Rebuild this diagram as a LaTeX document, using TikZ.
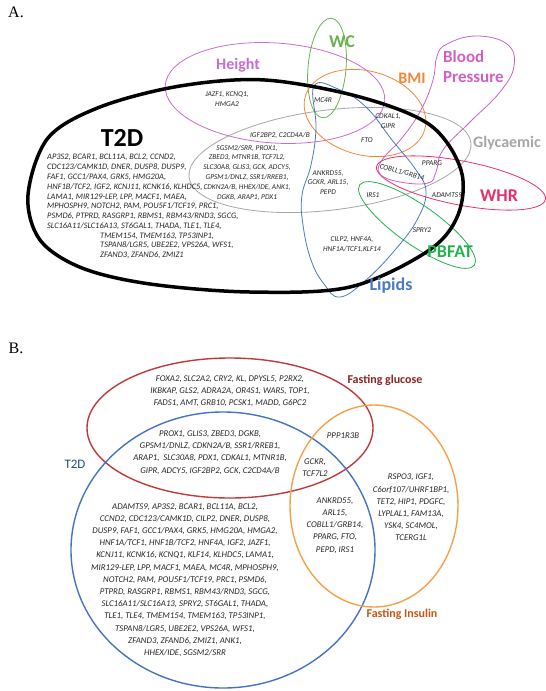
\documentclass[tikz,border=0pt]{standalone}
\usepackage{fontspec}
\setmainfont{Carlito}
\newfontfamily\panelfont{Liberation Serif}
\usepackage{tikz}
\definecolor{genetext}{HTML}{262626}
\definecolor{heightviolet}{HTML}{C76CD2}
\definecolor{wcgreen}{HTML}{6AB04C}
\definecolor{bmiorange}{HTML}{F0883A}
\definecolor{bpmagenta}{HTML}{D160C6}
\definecolor{glycgrey}{HTML}{A6A6A6}
\definecolor{whrred}{HTML}{E5306A}
\definecolor{pbfatgreen}{HTML}{22B14C}
\definecolor{lipidblue}{HTML}{4A7AC6}
\definecolor{fgred}{HTML}{C0393B}
\definecolor{fgdark}{HTML}{8B2323}
\definecolor{tdblue}{HTML}{4472C4}
\definecolor{tdnavy}{HTML}{1F4E79}
\definecolor{fiorange}{HTML}{F5A04A}
\definecolor{fibrown}{HTML}{C0561A}
\tikzset{
  vennline/.style={line width=0.8pt},
  vennthick/.style={line width=1.4pt},
  genes/.style={
    font=\fontsize{7.4}{9.8}\selectfont\itshape,
    text=genetext,
    align=center,
    inner sep=0pt
  },
  genesleft/.style={
    font=\fontsize{8.4}{9.8}\selectfont\itshape,
    text=genetext,
    align=left,
    inner sep=0pt
  },
  genesbig/.style={
    font=\fontsize{8.8}{12.2}\selectfont\itshape,
    text=genetext,
    align=center,
    inner sep=0pt
  },
  trait/.style={font=\bfseries\fontsize{#1}{#1}\selectfont, inner sep=0pt},
  traitB/.style={font=\fontsize{#1}{#1}\selectfont, inner sep=0pt},
  panellabel/.style={font=\panelfont\fontsize{16}{16}\selectfont, inner sep=0pt}
}
\begin{document}
\begin{tikzpicture}[x=1pt, y=-1pt]
  \useasboundingbox (0,0) rectangle (546,691);

  % panel A
  \node[panellabel] (labelA) at (16,12) {A.};

  \draw[vennline, heightviolet, rotate around={-4:(275,93)}] (275,93) ellipse [x radius=110, y radius=50];
  \draw[vennline, glycgrey, rotate around={7:(330,160)}] (330,160) ellipse [x radius=142, y radius=50];
  \draw[vennline, wcgreen, rotate around={-5:(327,68)}] (327,68) ellipse [x radius=19, y radius=50];
  \draw[vennline, bmiorange, rotate around={-15:(365,113)}] (365,113) ellipse [x radius=62, y radius=42];
  \draw[vennline, whrred, rotate around={-11:(461,183)}] (461,183) ellipse [x radius=86, y radius=22];
  \draw[vennline, pbfatgreen, rotate around={-35:(417,225)}] (417,225) ellipse [x radius=70, y radius=20];
  \draw[vennline, bpmagenta] plot[smooth cycle, tension=0.7] coordinates {
    (447,44) (476,36) (507,44) (514,66) (500,92) (470,122) (443,150) (436,172)
    (428,183) (400,182) (380,174) (382,160) (402,138) (421,110) (433,80) (437,56)};
  \draw[vennline, lipidblue] plot[smooth cycle, tension=0.7] coordinates {
    (314,86) (338,89) (366,107) (392,140) (416,170) (426,192) (417,220) (395,250)
    (366,280) (340,297) (324,284) (311,260) (303,225) (302,195) (311,165) (316,128)};
  \draw[line width=3.5pt, black] plot[smooth cycle, tension=0.55] coordinates {
    (28,195) (48,138) (100,107) (180,86) (265,80) (360,97) (430,125) (461,170)
    (458,215) (428,251) (350,287) (250,292) (150,284) (82,268) (40,240)};

  \node[trait=26] (t2dA) at (122,138) {T2D};
  \node[trait=16, text=heightviolet] (height) at (238,65) {Height};
  \node[trait=18, text=wcgreen] (wc) at (342,42) {WC};
  \node[trait=16, text=bmiorange] (bmi) at (412,78) {BMI};
  \node[trait=17, text=bpmagenta, align=left, anchor=west] (bp) at (443,67) {Blood\\[3pt]Pressure};
  \node[trait=16, text=glycgrey] (glyc) at (507,143) {Glycaemic};
  \node[trait=18, text=whrred] (whr) at (499,196) {WHR};
  \node[trait=18, text=pbfatgreen] (pbfat) at (450,252) {PBFAT};
  \node[trait=18, text=lipidblue] (lipids) at (391,286) {Lipids};

  \node[genes] (jazf) at (227,99.5) {JAZF1, KCNQ1,\\HMGA2};
  \node[genes] (igf2bp) at (280,135) {IGF2BP2, C2CD4A/B};
  \node[genes] (glyct2d) at (247,172.5) {SGSM2/SRR, PROX1,\\ZBED3, MTNR1B, TCF7L2,\\SLC30A8, GLIS3, GCK, ADCY5,\\GPSM1/DNLZ, SSR1/RREB1,\\CDKN2A/B, HHEX/IDE, ANK1,\\DGKB, ARAP1, PDX1};
  \node[genesleft, anchor=west] (t2donly) at (47,192) {AP3S2, BCAR1, BCL11A, BCL2, CCND2,\\CDC123/CAMK1D, DNER, DUSP8, DUSP9,\\FAF1, GCC1/PAX4, GRK5, HMG20A,\\HNF1B/TCF2, IGF2, KCNJ11, KCNK16, KLHDC5,\\LAMA1, MIR129-LEP, LPP, MACF1, MAEA,\\MPHOSPH9, NOTCH2, PAM, POU5F1/TCF19, PRC1,\\PSMD6, PTPRD, RASGRP1, RBMS1, RBM43/RND3, SGCG,\\SLC16A11/SLC16A13, ST6GAL1, THADA, TLE1, TLE4,};
  \node[genesleft, anchor=west] (t2donlyb) at (100,245.5) {TMEM154, TMEM163, TP53INP1,\\TSPAN8/LGR5, UBE2E2, VPS26A, WFS1,\\ZFAND3, ZFAND6, ZMIZ1};
  \node[genes] (mc4r) at (323,100) {MC4R};
  \node[genes] (cdkal) at (388,121.5) {CDKAL1,\\GIPR};
  \node[genes] (fto) at (367,140) {FTO};
  \node[genes] (ankrd) at (328,182.5) {ANKRD55,\\GCKR, ARL15,\\PEPD};
  \node[genes] (pparg) at (432,163) {PPARG};
  \node[genes, rotate=-15] (cobll) at (402,172) {COBLL1/GRB14};
  \node[genes] (adamts) at (447,195) {ADAMTS9};
  \node[genes] (irs) at (373,195) {IRS1};
  \node[genes] (spry) at (422,230) {SPRY2};
  \node[genes] (cilp) at (352,244.5) {CILP2, HNF4A,\\HNF1A/TCF1,KLF14};

  % panel B
  \node[panellabel] (labelB) at (16,348) {B.};

  \draw[vennthick, fgred] (230,428) ellipse [x radius=143, y radius=70];
  \draw[vennthick, tdblue] (223,550) ellipse [x radius=152, y radius=138];
  \draw[vennthick, fiorange] (374,506) ellipse [x radius=84, y radius=101];

  \node[trait=12, text=fgdark] (fglabel) at (385,380) {Fasting glucose};
  \node[traitB=13, text=tdnavy] (t2dB) at (75,464) {T2D};
  \node[trait=12, text=fibrown] (filabel) at (402,614) {Fasting Insulin};

  \node[genesbig] (fgonly) at (230,391.5) {FOXA2, SLC2A2, CRY2, KL, DPYSL5, P2RX2,\\IKBKAP, GLS2, ADRA2A, OR4S1, WARS, TOP1,\\FADS1, AMT, GRB10, PCSK1, MADD, G6PC2};
  \node[genesbig] (fgt2d) at (210,452.5) {PROX1, GLIS3, ZBED3, DGKB,\\GPSM1/DNLZ, CDKN2A/B, SSR1/RREB1,\\ARAP1,\ \ SLC30A8, PDX1, CDKAL1, MTNR1B,\\GIPR, ADCY5, IGF2BP2, GCK, C2CD4A/B};
  \node[genesbig] (ppp) at (343,436) {PPP1R3B};
  \node[genesbig] (gckr) at (315,467.5) {GCKR,\\TCF7L2};
  \node[genesbig] (fit2d) at (335,525.5) {ANKRD55,\\ARL15,\\COBLL1/GRB14,\\PPARG, FTO,\\PEPD, IRS1};
  \node[genesbig] (fionly) at (411,507.5) {RSPO3, IGF1,\\C6orf107/UHRF1BP1,\\TET2, HIP1, PDGFC,\\LYPLAL1, FAM13A,\\YSK4, SC4MOL,\\TCERG1L};
  \node[genesbig] (t2donlyB) at (185,580) {ADAMTS9, AP3S2, BCAR1, BCL11A, BCL2,\\CCND2, CDC123/CAMK1D, CILP2, DNER, DUSP8,\\DUSP9, FAF1, GCC1/PAX4, GRK5, HMG20A, HMGA2,\\HNF1A/TCF1, HNF1B/TCF2, HNF4A, IGF2, JAZF1,\\KCNJ11, KCNK16, KCNQ1, KLF14, KLHDC5, LAMA1,\\MIR129-LEP, LPP, MACF1, MAEA, MC4R, MPHOSPH9,\\NOTCH2, PAM, POU5F1/TCF19, PRC1, PSMD6,\\PTPRD, RASGRP1, RBMS1, RBM43/RND3, SGCG,\\SLC16A11/SLC16A13, SPRY2, ST6GAL1, THADA,\\TLE1, TLE4, TMEM154, TMEM163, TP53INP1,\\TSPAN8/LGR5, UBE2E2, VPS26A, WFS1,\\ZFAND3, ZFAND6, ZMIZ1, ANK1,\\HHEX/IDE, SGSM2/SRR};
\end{tikzpicture}
\end{document}
